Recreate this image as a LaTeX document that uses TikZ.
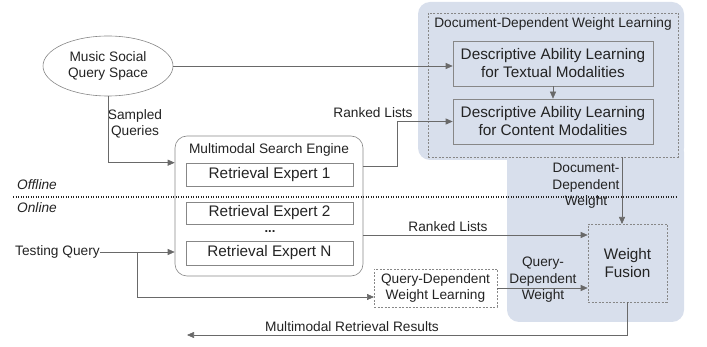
\documentclass[tikz,border=0pt]{standalone}
\usepackage{fontspec}
\setmainfont{Liberation Sans}
\usetikzlibrary{shapes.geometric,arrows.meta,calc}
\definecolor{bluebg}{RGB}{216,223,236}
\definecolor{linec}{RGB}{105,105,105}
\definecolor{boxc}{RGB}{135,135,135}
\definecolor{txtc}{RGB}{35,35,35}
\begin{document}
\begin{tikzpicture}[x=1pt,y=-1pt,
  every node/.style={text=txtc, inner sep=0pt, align=center},
  big/.style={font=\fontsize{15.3}{18}\selectfont},
  lab/.style={font=\fontsize{13.7}{16.5}\selectfont},
  solidbox/.style={draw=boxc, line width=0.6pt, rectangle, big},
  dashbox/.style={draw=boxc, line width=0.6pt, dashed, dash pattern=on 2pt off 1.5pt, rectangle},
  arr/.style={draw=linec, line width=0.6pt, -{Triangle[length=7pt,width=6pt]}},
  ln/.style={draw=linec, line width=0.6pt}]
\useasboundingbox (0,0) rectangle (707,347);
% blue background
\fill[bluebg, rounded corners=12pt] (418,2) rectangle (684,160);
\fill[bluebg, rounded corners=12pt] (507,140) rectangle (684,322);
% document-dependent weight learning
\node[dashbox, minimum width=250, minimum height=144] (dd) at (553,85) {};
\node[lab] (ddt) at (553,24) {Document-Dependent Weight Learning};
\node[solidbox, minimum width=200, minimum height=45] (tx) at (553,63.5) {Descriptive Ability Learning\\for Textual Modalities};
\node[solidbox, minimum width=200, minimum height=45] (cm) at (553,121.5) {Descriptive Ability Learning\\for Content Modalities};
% ellipse
\node[ellipse, draw=boxc, line width=0.6pt, minimum width=130, minimum height=60, lab] (q) at (108,66) {Music Social\\Query Space};
% multimodal search engine
\node[draw=boxc, line width=0.6pt, rounded corners=12pt, minimum width=188, minimum height=140] (mse) at (269,206) {};
\node[lab] (mset) at (269,150) {Multimodal Search Engine};
\node[solidbox, minimum width=167, minimum height=23] (re1) at (269.5,174.5) {Retrieval Expert 1};
\node[solidbox, minimum width=167, minimum height=22] (re2) at (269.5,213) {Retrieval Expert 2};
\node[font=\bfseries\fontsize{13}{13}\selectfont] (dots) at (270,231.5) {...};
\node[solidbox, minimum width=167, minimum height=24] (ren) at (269.5,253) {Retrieval Expert N};
% query dependent
\node[dashbox, lab, minimum width=123, minimum height=38] (qd) at (435.5,288) {Query-Dependent\\Weight Learning};
\node[dashbox, big, minimum width=79, minimum height=78] (wf) at (627.5,263) {Weight\\Fusion};
% text labels
\node[lab, anchor=west] (tq) at (15,252) {Testing Query};
\node[lab] (sq) at (135,124) {Sampled\\Queries};
\node[lab] (rl1) at (373,113) {Ranked Lists};
\node[lab] (rl2) at (448,227) {Ranked Lists};
\node[lab] (qdw) at (543,280) {Query-\\Dependent\\Weight};
\node[lab] (ddw) at (586,186) {Document-\\Dependent\\Weight};
\node[lab] (mrr) at (352,327) {Multimodal Retrieval Results};
\node[lab, anchor=west, font=\itshape\fontsize{13.7}{16.5}\selectfont] (off) at (17,185) {Offline};
\node[lab, anchor=west, font=\itshape\fontsize{13.7}{16.5}\selectfont] (on) at (17,208) {Online};
% dotted separator
\coordinate (sepl) at (13,197);
\coordinate (sepr) at (676,197);
\draw[line width=1.2pt, dash pattern=on 1.2pt off 1.3pt, draw=txtc] (sepl) -- (sepr);
% connectors
\draw[arr] (q.east) -- (q.east -| tx.west);
\draw[arr] (q.south) |- (mse.west |- re1.north);
\draw[arr] (tx.south) -- (cm.north);
\coordinate (rlA) at (363,166);
\coordinate (rlB) at (397,166);
\draw[arr] (rlA) -- (rlB) |- (cm.west);
\draw[arr] (tq.east) -- (tq.east -| mse.west);
\coordinate (br) at (137,252);
\coordinate (qdin) at (374,297);
\draw[arr] (br) |- (qdin);
\coordinate (rlC) at (363,235);
\draw[arr] (rlC) -- (rlC -| wf.west);
\draw[arr] (qd.east) -- (qd.east -| wf.west);
\coordinate (wfin) at (622,224);
\draw[arr] (wfin |- dd.south) -- (wfin);
\coordinate (out) at (187,335);
\draw[arr] (wf.south) |- (out);
\end{tikzpicture}
\end{document}
